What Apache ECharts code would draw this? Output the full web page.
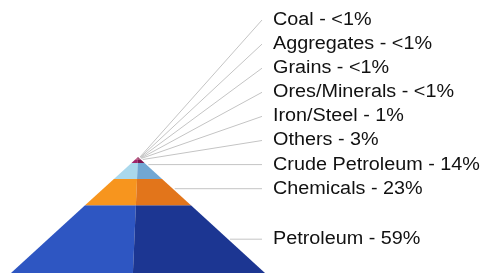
<!DOCTYPE html>
<html>
<head>
<meta charset="utf-8">
<script src="https://cdn.jsdelivr.net/npm/echarts@6/dist/echarts.min.js"></script>
<style>html,body{margin:0;padding:0;background:#fff;}#c{width:484px;height:277px;}</style>
</head>
<body>
<div id="c"></div>
<script>
// Layers listed from the base of the pyramid to its tip
var categories = ['Petroleum', 'Chemicals', 'Crude Petroleum', 'Others', 'Iron/Steel', 'Ores/Minerals', 'Grains', 'Aggregates', 'Coal'];
var values = [59, 23, 14, 3, 1, 0.3, 0.3, 0.3, 0.3];
var valueLabels = ['59%', '23%', '14%', '3%', '1%', '<1%', '<1%', '<1%', '<1%'];
var leftColors = ['#2e56c2', '#f7951e', '#aad8ec', '#a0246a', '#b52a62', '#9a2058', '#9a2058', '#9a2058', '#9a2058'];
var rightColors = ['#1c3692', '#e2751b', '#72a7d3', '#7c1650', '#8e1e4c', '#7a1648', '#7a1648', '#7a1648', '#7a1648'];

var total = values.reduce(function (a, b) { return a + b; }, 0);
var starts = [];
(function () { var s = 0; for (var i = 0; i < values.length; i++) { starts.push(s); s += values[i]; } })();

var chart = echarts.init(document.getElementById('c'), null, { renderer: 'canvas' });
var n = categories.length;
var SPLIT = -0.04;       // slant of front edge
var LABEL_X = 273, LINE_END = 262, TOP_LABEL = 20, STEP = 24.1;

function renderItem(params, api) {
  var i = params.dataIndex;
  var v0 = api.value(1), v1 = api.value(2);
  var w0 = 1 - v0 / total, w1 = 1 - v1 / total;
  var s0 = SPLIT * w0, s1 = SPLIT * w1;
  var c = function (x, y) { return api.coord([x, y]); };
  var leftPts = [c(-w0, v0), c(s0, v0), c(s1, v1), c(-w1, v1)];
  var rightPts = [c(s0, v0), c(w0, v0), c(w1, v1), c(s1, v1)];
  var botPx = c(0, v0)[1], topPx = c(0, v1)[1];
  var midPx = (botPx + topPx) / 2;
  var rank = n - 1 - i;
  var stacked = TOP_LABEL + STEP * rank;
  var ly = (botPx - topPx > 2 * STEP) ? Math.max(midPx, stacked) : stacked;
  var ay = Math.min(Math.max(ly, topPx), botPx);
  var baseY = c(0, 0)[1], apexY = c(0, total)[1];
  var av = total * (baseY - ay) / (baseY - apexY);
  var ax = c(1 - av / total, av)[0] + 2;
  return {
    type: 'group',
    children: [
      { type: 'polygon', shape: { points: leftPts }, style: { fill: leftColors[i] } },
      { type: 'polygon', shape: { points: rightPts }, style: { fill: rightColors[i] } },
      { type: 'line', shape: { x1: ax, y1: ay, x2: LINE_END, y2: ly }, style: { stroke: '#c4c4c4', lineWidth: 1 }, z2: 5 },
      { type: 'text', x: LABEL_X, y: ly, scaleX: 1.1,
        style: { text: categories[i] + ' - ' + valueLabels[i], fill: '#111', font: '18px "Liberation Sans", Arial, sans-serif', align: 'left', verticalAlign: 'middle' } }
    ]
  };
}

chart.setOption({
  animation: false,
  grid: { left: 11, right: 219, top: 157, bottom: 4 },
  xAxis: { type: 'value', min: -1, max: 1, show: false },
  yAxis: { type: 'value', min: 0, max: total, show: false },
  series: [{
    type: 'custom',
    clip: false,
    renderItem: renderItem,
    data: categories.map(function (name, i) { return [i, starts[i], starts[i] + values[i]]; })
  }]
});
</script>
</body>
</html>
